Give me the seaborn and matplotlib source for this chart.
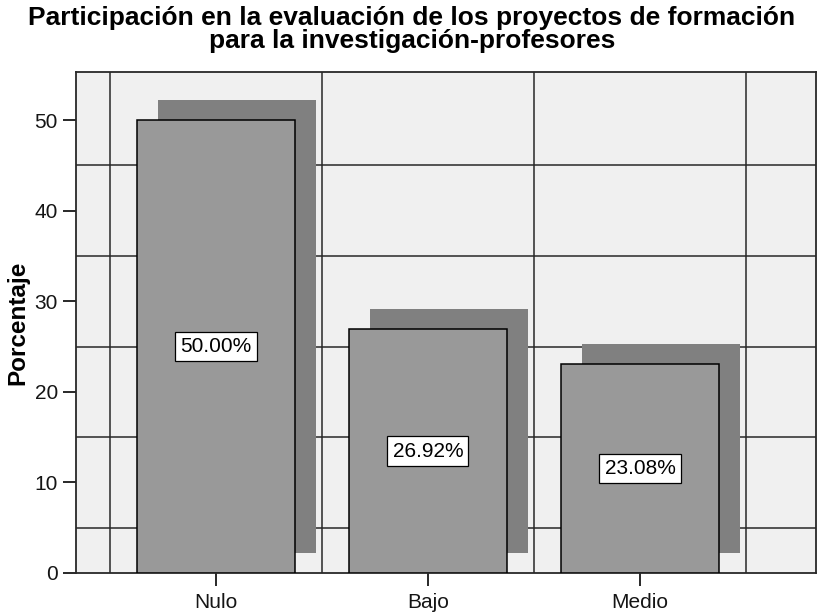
import matplotlib
matplotlib.use("Agg")
import matplotlib.pyplot as plt
from matplotlib.transforms import ScaledTranslation
import seaborn as sns
import pandas as pd

# Data
categorias = ["Nulo", "Bajo", "Medio"]
porcentajes = [50.00, 26.92, 23.08]
etiquetas = [f"{v:.2f}%" for v in porcentajes]
yticks = [0, 10, 20, 30, 40, 50]

titulo = ("Participación en la evaluación de los proyectos de formación\n"
          "para la investigación-profesores")

df = pd.DataFrame({"categoria": categorias, "porcentaje": porcentajes})

sns.set_style("white")
plt.rcParams["font.family"] = ["Liberation Sans", "DejaVu Sans"]

fig = plt.figure(figsize=(8.17, 6.13), dpi=100)
ax = fig.add_axes([0.093, 0.0653, 0.9058, 0.8172])
ax.set_facecolor("#F0F0F0")

ancho = 0.745

# Drop shadow behind each bar (same bars, shifted up and right)
sns.barplot(data=df, x="categoria", y="porcentaje", order=categorias,
            color="#808080", saturation=1, width=ancho, linewidth=0,
            errorbar=None, ax=ax)
desplazamiento = ScaledTranslation(0.21, 0.20, fig.dpi_scale_trans)
for p in ax.containers[0]:
    p.set_transform(ax.transData + desplazamiento)
    p.set_zorder(2)

# Main bars
sns.barplot(data=df, x="categoria", y="porcentaje", order=categorias,
            color="#999999", saturation=1, width=ancho, edgecolor="black",
            linewidth=1.1, errorbar=None, ax=ax)
for p in ax.containers[1]:
    p.set_zorder(3)

ax.bar_label(ax.containers[1], labels=etiquetas, label_type="center",
             fontsize=15, color="black", zorder=5,
             bbox=dict(boxstyle="square,pad=0.25", fc="white", ec="black", lw=0.9))

ax.set_xlim(-0.66, 2.83)
ax.set_ylim(0, 55.3)
ax.set_yticks(yticks)

# Grid lines between categories and halfway between value ticks
ax.set_xticks([-0.5, 0.5, 1.5, 2.5], minor=True)
ax.set_yticks([5, 15, 25, 35, 45], minor=True)
ax.grid(False)
ax.grid(True, which="minor", color="#282828", linewidth=1.1)
ax.set_axisbelow(True)
ax.tick_params(which="minor", length=0, bottom=False, left=False)
ax.tick_params(which="major", bottom=True, left=True, length=9.4, width=1.4,
               color="#282828", labelsize=15, labelcolor="#151515", pad=3.6)
ax.tick_params(axis="x", which="major", pad=5.0)

for s in ax.spines.values():
    s.set_color("#282828")
    s.set_linewidth(1.3)
    s.set_visible(True)

ax.set_xlabel("")
ax.set_ylabel("Porcentaje", fontsize=17.5, fontweight="bold", labelpad=4,
              color="black")

fig.text(0.504, 0.99, titulo, ha="center", va="top", fontsize=19,
         fontweight="bold", linespacing=0.95, color="black")

fig.savefig("out.png", dpi=100)
